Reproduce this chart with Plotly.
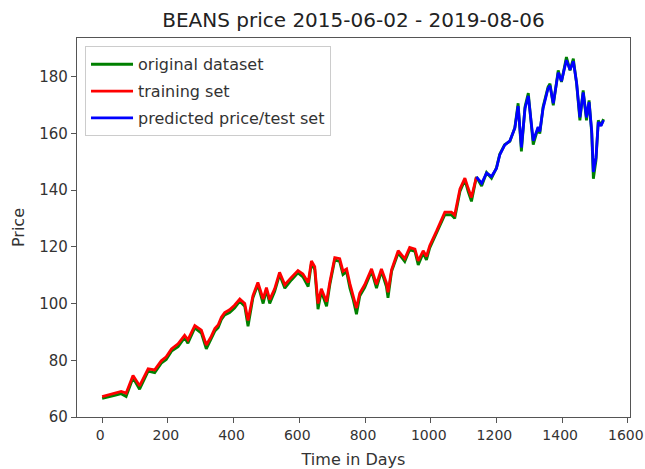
import plotly.graph_objects as go

# ---- data ----
green_days = [0, 18, 38, 58, 73, 94, 114, 140, 160, 180, 195, 211, 231, 251, 261, 282, 302, 317, 332, 343,
              353, 363, 373, 388, 403, 419, 434, 444, 459, 474, 490, 500, 510, 525, 540, 556, 576, 596, 611, 627,
              637, 647, 657, 667, 683, 693, 708, 723, 733, 744, 754, 764, 774, 784, 799, 820, 835, 850, 865, 870,
              881, 901, 921, 936, 952, 962, 977, 987, 997, 1018, 1043, 1063, 1073, 1089, 1104, 1114, 1124, 1139,
              1155, 1170, 1185, 1200, 1210, 1225, 1241, 1256, 1266, 1276, 1287, 1297, 1312, 1327, 1332, 1342,
              1357, 1363, 1373, 1388, 1398, 1413, 1424, 1434, 1444, 1454, 1464, 1474, 1482, 1490, 1495, 1503,
              1510, 1518, 1526]
green_price = [66.6, 67.0, 67.6, 68.2, 67.2, 73.8, 69.8, 76.2, 75.6, 79.0, 80.3, 83.2, 84.8, 88.0, 86.0, 91.4,
               89.6, 84.0, 87.4, 90.3, 91.5, 94.4, 96.0, 96.8, 98.4, 100.8, 99.0, 92.0, 102.0, 106.7, 100.0, 104.8,
               100.0, 104.2, 110.2, 105.4, 108.3, 110.8, 109.4, 106.0, 114.2, 112.0, 98.0, 104.2, 99.0, 106.6,
               115.4, 114.8, 110.2, 111.2, 105.4, 101.4, 96.2, 102.6, 105.6, 111.4, 105.4, 111.4, 106.0, 102.0,
               111.4, 117.8, 114.8, 119.0, 118.4, 113.6, 117.8, 115.4, 119.6, 124.8, 131.3, 131.3, 130.0, 139.5,
               143.6, 139.5, 136.0, 144.6, 141.4, 146.2, 144.2, 147.8, 152.6, 156.0, 157.2, 162.0, 170.6, 153.6,
               169.4, 174.2, 156.0, 162.0, 159.9, 169.4, 176.3, 177.5, 169.9, 182.2, 178.1, 186.9, 182.2, 186.3,
               177.5, 164.6, 175.1, 164.6, 171.6, 159.9, 144.0, 150.5, 164.6, 162.8, 165.0]

train_days = [0, 18, 38, 58, 73, 94, 114, 140, 160, 180, 195, 211, 231, 251, 261, 282, 302, 317, 332, 343,
              353, 363, 373, 388, 403, 419, 434, 444, 459, 474, 490, 500, 510, 525, 540, 556, 576, 596, 611, 627,
              637, 647, 657, 667, 683, 693, 708, 723, 733, 744, 754, 764, 774, 784, 799, 820, 835, 850, 865, 870,
              881, 901, 921, 936, 952, 962, 977, 987, 997, 1018, 1043, 1063, 1073, 1089, 1104, 1114, 1124, 1139]
train_price = [67.2, 67.8, 68.4, 69.0, 68.4, 74.6, 71.0, 77.0, 76.6, 79.8, 81.2, 84.0, 85.8, 88.8, 87.2, 92.2,
               90.6, 85.4, 88.4, 91.2, 92.4, 95.2, 96.8, 97.8, 99.4, 101.6, 100.0, 94.0, 102.8, 107.4, 101.6, 105.6,
               101.4, 105.2, 111.0, 106.6, 109.2, 111.6, 110.4, 107.4, 115.0, 113.0, 100.0, 105.2, 100.6, 107.6,
               116.2, 115.8, 111.4, 112.2, 107.0, 103.0, 98.4, 103.6, 106.6, 112.2, 106.8, 112.2, 107.4, 104.0,
               112.0, 118.6, 115.8, 119.8, 119.2, 115.0, 118.6, 116.6, 120.4, 125.6, 132.2, 132.2, 131.2, 140.4,
               144.2, 140.6, 137.4, 144.6]

test_days = [1139, 1155, 1170, 1185, 1200, 1210, 1225, 1241, 1256, 1266, 1276, 1287, 1297, 1312, 1327, 1332,
             1342, 1357, 1363, 1373, 1388, 1398, 1413, 1424, 1434, 1444, 1454, 1464, 1474, 1482, 1490, 1495,
             1503, 1510, 1518, 1526]
test_price = [144.6, 142.4, 146.0, 144.8, 147.6, 152.4, 155.8, 157.4, 161.8, 169.6, 155.0, 168.8, 173.2, 157.4,
              162.2, 160.6, 168.8, 175.8, 176.8, 170.6, 181.4, 178.4, 185.8, 182.4, 185.4, 177.8, 165.6, 174.4,
              165.6, 171.0, 160.8, 146.4, 151.4, 164.0, 162.6, 164.6]

x_ticks = [0, 200, 400, 600, 800, 1000, 1200, 1400, 1600]
y_ticks = [60, 80, 100, 120, 140, 160, 180]

fig = go.Figure()
fig.add_trace(go.Scatter(x=green_days, y=green_price, mode="lines", name="original dataset",
                         line=dict(color="#008000", width=2.8), legendgroup="a"))
fig.add_trace(go.Scatter(x=train_days, y=train_price, mode="lines", name="training set",
                         line=dict(color="#ff0000", width=2.8), legendgroup="b"))
fig.add_trace(go.Scatter(x=test_days, y=test_price, mode="lines", name="predicted price/test set",
                         line=dict(color="#0000ff", width=2.8), legendgroup="c"))

axis_common = dict(showgrid=False, zeroline=False, showline=True, mirror=True, linecolor="#555555",
                   linewidth=1.2, ticks="outside", ticklen=5, tickcolor="#555555",
                   ticklabeloverflow="allow", automargin=False)

W, H = 645, 469
fig.update_layout(
    width=W, height=H,
    margin=dict(l=77, r=15, t=38, b=52),
    paper_bgcolor="white", plot_bgcolor="white",
    title=dict(text="BEANS price 2015-06-02 - 2019-08-06", x=0.5, xref="paper", xanchor="center",
               y=1 - 20 / H, yanchor="middle",
               font=dict(family="DejaVu Sans", size=20, color="#222222")),
    xaxis=dict(range=[-76.5, 1606.5], tickvals=x_ticks, ticklabelshift=-2,
               tickfont=dict(family="DejaVu Sans", size=14, color="#333333"),
               title=dict(text="Time in Days", font=dict(family="DejaVu Sans", size=16, color="#333333"),
                          standoff=12),
               **axis_common),
    yaxis=dict(range=[60, 193.6], tickvals=y_ticks,
               tickfont=dict(family="DejaVu Sans", size=15, color="#333333"),
               title=dict(text="Price", font=dict(family="DejaVu Sans", size=16, color="#333333"),
                          standoff=10),
               **axis_common),
    legend=dict(x=0.0145, y=0.978, xanchor="left", yanchor="top", bgcolor="rgba(255,255,255,0.8)",
                bordercolor="#cccccc", borderwidth=1, tracegroupgap=3, itemwidth=42,
                font=dict(family="DejaVu Sans", size=16, color="#333333")),
    showlegend=True,
)

fig.write_html("out.html", config={"displayModeBar": False},
               post_script="document.body.style.margin='0';document.body.style.overflow='hidden';")
